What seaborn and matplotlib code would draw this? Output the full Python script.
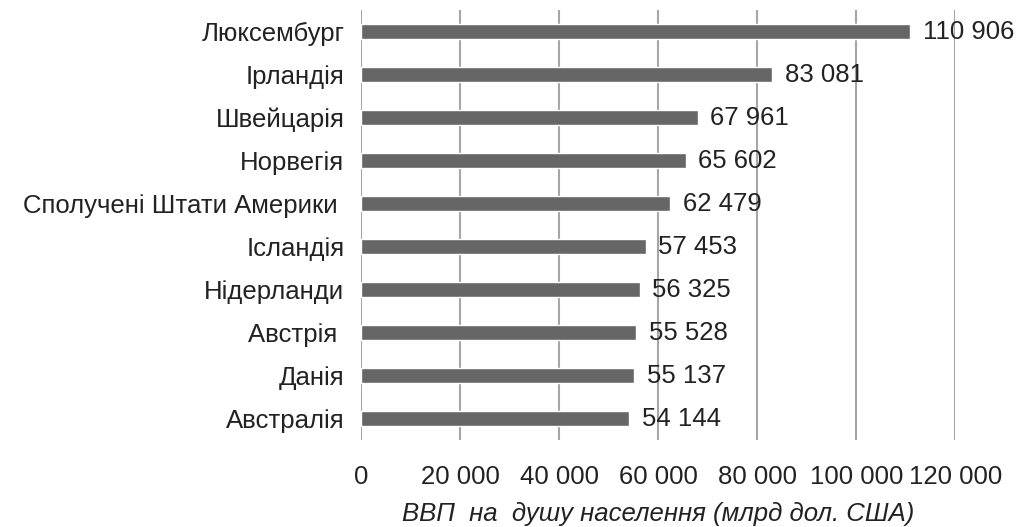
import pandas as pd
import matplotlib.pyplot as plt
import seaborn as sns

# дані
countries = ['Люксембург', 'Ірландія', 'Швейцарія', 'Норвегія',
             'Сполучені Штати Америки ', 'Ісландія', 'Нідерланди',
             'Австрія ', 'Данія', 'Австралія']
gdp = [110906, 83081, 67961, 65602, 62479, 57453, 56325, 55528, 55137, 54144]
ticks = [0, 20000, 40000, 60000, 80000, 100000, 120000]

df = pd.DataFrame({'Country': countries, 'GDP': gdp})


def fmt(v):
    # пробіл між тисячами
    return f'{v:,}'.replace(',', ' ')


sns.set_theme(style="white")
plt.rcParams['font.family'] = ['Liberation Sans', 'DejaVu Sans']

fig = plt.figure(figsize=(10.26, 5.27), dpi=100)
ax = fig.add_axes([0.352, 0.165, 0.579, 0.816])

sns.barplot(data=df, x='GDP', y='Country', color='#666666', width=0.37,
            saturation=1, ax=ax, zorder=3)

for container in ax.containers:
    ax.bar_label(container, labels=[fmt(v) for v in gdp],
                 padding=9, fontsize=18.5, color='#222222')

ax.set_xlim(0, 120000)
ax.set_xticks(ticks)
ax.set_xticklabels([fmt(t) for t in ticks], fontsize=18.5, color='#222222')
ax.tick_params(axis='x', length=0, pad=18)
ax.tick_params(axis='y', length=0, pad=12, labelsize=18.5, labelcolor='#222222')
ax.grid(axis='x', color='#a6a6a6', linewidth=1.5, zorder=0)
for s in ax.spines.values():
    s.set_visible(False)

ax.set_ylabel('')
ax.set_xlabel('ВВП  на  душу населення (млрд дол. США)', fontsize=18.5,
              style='italic', color='#222222', labelpad=9)

fig.savefig('out.png', dpi=100)
